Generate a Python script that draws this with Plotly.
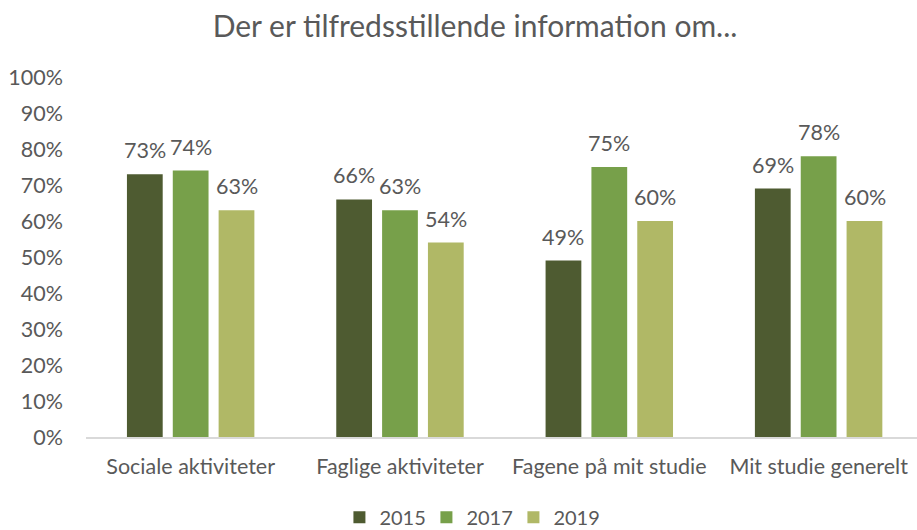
import plotly.graph_objects as go

categories = ["Sociale aktiviteter", "Faglige aktiviteter", "Fagene på mit studie", "Mit studie generelt"]
series_names = ["2015", "2017", "2019"]
values_2015 = [0.73, 0.66, 0.49, 0.69]
values_2017 = [0.74, 0.63, 0.75, 0.78]
values_2019 = [0.63, 0.54, 0.60, 0.60]
y_tickvals = [0, 0.1, 0.2, 0.3, 0.4, 0.5, 0.6, 0.7, 0.8, 0.9, 1.0]
y_ticktext = ["0%", "10%", "20%", "30%", "40%", "50%", "60%", "70%", "80%", "90%", "100%"]
title = "Der er tilfredsstillende information om..."

colors = ["#4E5B31", "#77A04A", "#B0B866"]
FONT = "Lato"
TXT = "#595959"
FS = 21.5

fig = go.Figure()
all_vals = [values_2015, values_2017, values_2019]
for name, vals, col in zip(series_names, all_vals, colors):
    fig.add_trace(go.Bar(x=categories, y=vals, name=name, marker=dict(color=col, line=dict(width=0))))

shifts = [-46, 0, 46]
for vals, xs in zip(all_vals, shifts):
    for c, v in zip(categories, vals):
        fig.add_annotation(x=c, y=v, text=f"{round(v*100)}%", showarrow=False,
                           xshift=xs, yshift=24, yanchor="middle", xanchor="center",
                           font=dict(family=FONT, size=FS, color=TXT))

fig.update_layout(
    width=917, height=530,
    paper_bgcolor="white", plot_bgcolor="white",
    margin=dict(l=86, r=0, t=77, b=93),
    title=dict(text=title, x=0.518, xanchor="center", y=0.95, yanchor="middle",
               font=dict(family=FONT, size=30, color=TXT)),
    barmode="group", bargap=0.343, bargroupgap=0.22,
    font=dict(family=FONT, size=FS, color=TXT),
    legend=dict(orientation="h", x=0.462, xanchor="center", yref="container", y=0.024,
                yanchor="middle", font=dict(family=FONT, size=20, color=TXT), itemwidth=30,
                entrywidth=42, entrywidthmode="pixels", traceorder="normal"),
    showlegend=True,
)
fig.update_xaxes(range=[-0.5, 3.47], showgrid=False, showline=True, linecolor="#D9D9D9",
                 linewidth=1.5, ticks="", ticklabelstandoff=9, automargin=False,
                 tickfont=dict(family=FONT, size=FS, color=TXT), fixedrange=True)
fig.update_yaxes(range=[0, 1.0], tickvals=y_tickvals, ticktext=y_ticktext, showgrid=False,
                 zeroline=False, showline=False, ticks="", ticklabelstandoff=22, automargin=False,
                 tickfont=dict(family=FONT, size=FS, color=TXT), fixedrange=True)

fig.write_html("out.html", config={"displayModeBar": False},
               post_script="document.body.style.margin='0';")
